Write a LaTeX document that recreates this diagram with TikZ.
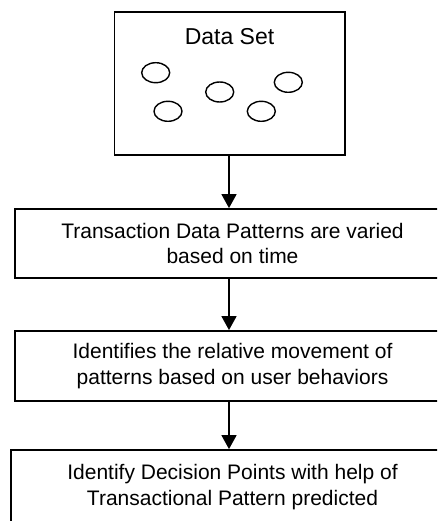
\documentclass[tikz,border=0pt]{standalone}
\usepackage{fontspec}
\setmainfont{Liberation Sans}
\usetikzlibrary{arrows.meta}
\tikzset{
  flowbox/.style={draw=black, line width=1.8pt, fill=white, align=center, inner sep=0pt,
    font=\fontsize{21}{25.5}\selectfont},
  flowarrow/.style={line width=1.6pt, -{Triangle[length=14pt,width=15pt]}},
  blob/.style={draw=black, line width=1.4pt}
}
\begin{document}
\begin{tikzpicture}[x=1pt,y=-1pt]
\useasboundingbox (0,0) rectangle (437,521);
\clip (0,0) rectangle (437,521);
\node[flowbox, minimum width=230.5pt, minimum height=142.7pt] (dataset) at (229.75,83.65) {};
\node[font=\fontsize{23}{27}\selectfont, anchor=base] (dstitle) at (229.5,45) {Data Set};
\draw[blob] (155.7,72.7) ellipse [x radius=14, y radius=10];
\draw[blob] (168,111.3) ellipse [x radius=14, y radius=10];
\draw[blob] (219.7,92) ellipse [x radius=14, y radius=10];
\draw[blob] (288.3,82.3) ellipse [x radius=14, y radius=10];
\draw[blob] (261.3,111.3) ellipse [x radius=14, y radius=10];
\node[flowbox, minimum width=435pt, minimum height=69pt] (b2) at (232.5,243.5)
  {Transaction Data Patterns are varied\\based on time};
\node[flowbox, minimum width=435pt, minimum height=70pt] (b3) at (232.5,366)
  {Identifies the relative movement of\\patterns based on user behaviors};
\node[flowbox, minimum width=443pt, minimum height=74pt] (b4) at (232.5,487)
  {Identify Decision Points with help of\\Transactional Pattern predicted};
\coordinate (a1s) at (229,155);
\draw[flowarrow] (dataset.south -| a1s) -- (b2.north -| a1s);
\draw[flowarrow] (b2.south -| a1s) -- (b3.north -| a1s);
\draw[flowarrow] (b3.south -| a1s) -- (b4.north -| a1s);
\end{tikzpicture}
\end{document}
